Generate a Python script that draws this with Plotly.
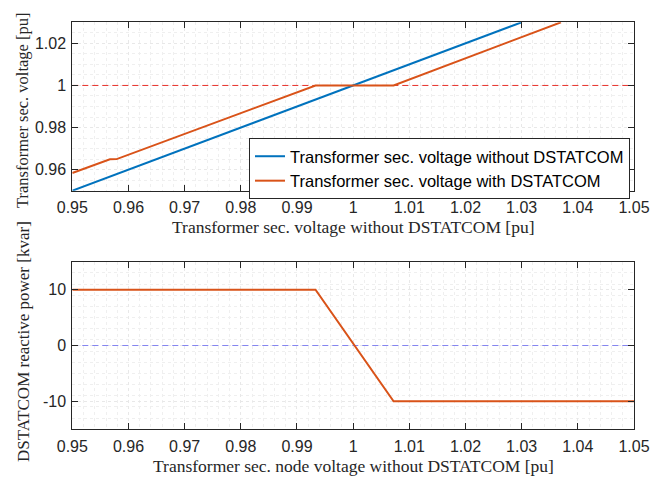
import plotly.graph_objects as go

# ---- data ----
v_without = [0.95, 1.03]
v_sec_without = [0.95, 1.03]

v_with_x = [0.95, 0.9567, 0.9579, 0.9933, 1.0072, 1.037]
v_with_y = [0.9584, 0.9649, 0.9650, 1.0, 1.0, 1.03]

ref_x = [0.95, 1.05]
ref_v = [1.0, 1.0]
ref_q = [0.0, 0.0]

q_x = [0.95, 0.9933, 1.0072, 1.05]
q_y = [10, 10, -10, -10]

x_ticks = [0.95, 0.96, 0.97, 0.98, 0.99, 1.0, 1.01, 1.02, 1.03, 1.04, 1.05]
x_ticklabels = ["0.95", "0.96", "0.97", "0.98", "0.99", "1", "1.01", "1.02", "1.03", "1.04", "1.05"]
y1_ticks = [0.96, 0.98, 1.0, 1.02]
y1_ticklabels = ["0.96", "0.98", "1", "1.02"]
y2_ticks = [-10, 0, 10]
y2_ticklabels = ["-10", "0", "10"]

BLUE = "#0072BD"
ORANGE = "#D95319"
AX = "#262626"
W, H = 667, 479
OFF = 8  # default page body margin
FW, FH = W - OFF, H - OFF


def fx(px):
    return (px - OFF) / FW


def fy(py):
    return 1 - (py - OFF) / FH


fig = go.Figure()
fig.add_trace(go.Scatter(x=ref_x, y=ref_v, mode="lines", showlegend=False,
                         line=dict(color="#e8302a", width=1, dash="6px,4px"),
                         xaxis="x", yaxis="y"))
fig.add_trace(go.Scatter(x=v_without, y=v_sec_without, mode="lines",
                         name="Transformer sec. voltage without DSTATCOM",
                         line=dict(color=BLUE, width=2), xaxis="x", yaxis="y"))
fig.add_trace(go.Scatter(x=v_with_x, y=v_with_y, mode="lines",
                         name="Transformer sec. voltage with DSTATCOM",
                         line=dict(color=ORANGE, width=2), xaxis="x", yaxis="y"))
fig.add_trace(go.Scatter(x=ref_x, y=ref_q, mode="lines", showlegend=False,
                         line=dict(color="#8585f0", width=1, dash="6px,4px"),
                         xaxis="x2", yaxis="y2"))
fig.add_trace(go.Scatter(x=q_x, y=q_y, mode="lines", showlegend=False,
                         line=dict(color=ORANGE, width=2), xaxis="x2", yaxis="y2"))

xd = [fx(72.3), fx(634)]
y1d = [fy(190.7), fy(22.3)]
y2d = [fy(429.3), fy(261.7)]

tickfont = dict(family="Liberation Sans, Arial", size=16, color=AX)


def xax(anchor):
    return dict(domain=xd, range=[0.95, 1.05], anchor=anchor,
                tickmode="array", tickvals=x_ticks, ticktext=x_ticklabels,
                ticks="inside", ticklen=6, tickcolor=AX, tickwidth=1,
                showline=True, linecolor=AX, linewidth=1, mirror="ticks",
                showgrid=True, gridcolor="#e8e8e8", griddash="dot", gridwidth=1,
                minor=dict(dtick=0.002, tick0=0.95, showgrid=True, gridcolor="#efefef",
                           griddash="dot", ticks=""),
                zeroline=False, tickfont=tickfont, automargin=False,
                ticklabelstandoff=2)


def yax(anchor, dom, rng, tv, tt, mdt):
    return dict(domain=dom, range=rng, anchor=anchor,
                tickmode="array", tickvals=tv, ticktext=tt,
                ticks="inside", ticklen=6, tickcolor=AX, tickwidth=1,
                showline=True, linecolor=AX, linewidth=1, mirror="ticks",
                showgrid=True, gridcolor="#e8e8e8", griddash="dot", gridwidth=1,
                minor=dict(dtick=mdt, tick0=rng[0], showgrid=True, gridcolor="#efefef",
                           griddash="dot", ticks=""),
                zeroline=False, tickfont=tickfont, automargin=False,
                ticklabelstandoff=2)


xtitlefont = dict(family="Liberation Serif, Times New Roman", size=17.5, color=AX)
ytitlefont1 = dict(family="Liberation Serif, Times New Roman", size=16.5, color=AX)
ytitlefont2 = dict(family="Liberation Serif, Times New Roman", size=17, color=AX)

fig.update_layout(
    width=FW, height=FH,
    margin=dict(l=0, r=0, t=0, b=0),
    paper_bgcolor="white", plot_bgcolor="white",
    xaxis=xax("y"),
    yaxis=yax("x", y1d, [0.95, 1.03], y1_ticks, y1_ticklabels, 0.005),
    xaxis2=xax("y2"),
    yaxis2=yax("x2", y2d, [-15, 15], y2_ticks, y2_ticklabels, 2),
    legend=dict(x=fx(249), y=fy(138), xanchor="left", yanchor="top",
                bgcolor="white", bordercolor=AX, borderwidth=1,
                font=dict(family="Liberation Sans, Arial", size=16.5, color="black"),
                tracegroupgap=0),
    annotations=[
        dict(text="Transformer sec. voltage without DSTATCOM [pu]", x=fx((72.3 + 634) / 2),
             y=fy(226.5), xref="paper", yref="paper", showarrow=False,
             xanchor="center", yanchor="middle", font=xtitlefont),
        dict(text="Transformer sec. node voltage without DSTATCOM [pu]", x=fx((72.3 + 634) / 2),
             y=fy(465.5), xref="paper", yref="paper", showarrow=False,
             xanchor="center", yanchor="middle", font=xtitlefont),
        dict(text="Transformer sec. voltage [pu]", x=fx(23), y=fy(110),
             xref="paper", yref="paper", showarrow=False, textangle=-90,
             xanchor="center", yanchor="middle", font=ytitlefont1),
        dict(text="DSTATCOM reactive power [kvar]", x=fx(23), y=fy(342),
             xref="paper", yref="paper", showarrow=False, textangle=-90,
             xanchor="center", yanchor="middle", font=ytitlefont2),
    ],
)

fig.write_html("out.html")
